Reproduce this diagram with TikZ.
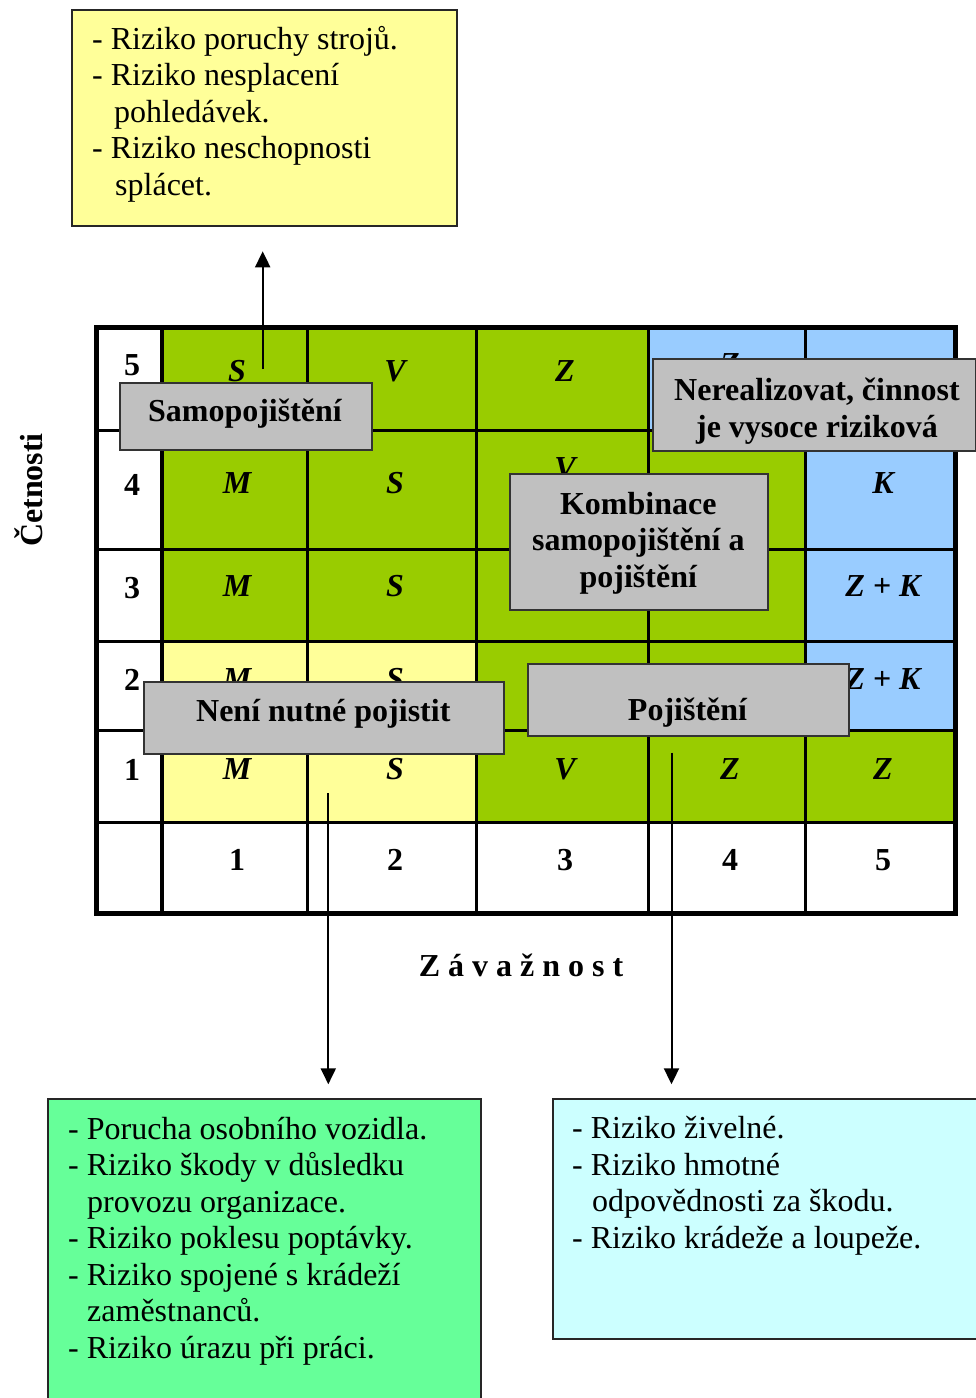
\documentclass[tikz,border=0pt]{standalone}
\usepackage{fontspec}
\setmainfont{Liberation Serif}
\usetikzlibrary{arrows.meta,calc}
\definecolor{cgreen}{HTML}{99CC00}
\definecolor{cyellow}{HTML}{FFFF99}
\definecolor{cblue}{HTML}{99CCFF}
\definecolor{cgray}{HTML}{C0C0C0}
\definecolor{clistg}{HTML}{66FF99}
\definecolor{clistc}{HTML}{CCFFFF}
\newcommand\mylines[2]{\begin{tabular}[t]{@{}#1@{}}#2\end{tabular}}
\begin{document}
\begin{tikzpicture}[x=1pt,y=-1pt,
  cellt/.style={font=\fontsize{32}{37}\selectfont\bfseries\itshape, anchor=base, inner sep=0pt},
  axt/.style={font=\fontsize{32}{37}\selectfont\bfseries, anchor=base, inner sep=0pt},
  boldt/.style={font=\fontsize{32}{37}\selectfont\bfseries, anchor=base, inner sep=0pt},
  boldtk/.style={font=\fontsize{32}{36.5}\selectfont\bfseries, anchor=base, inner sep=0pt},
  listt/.style={font=\fontsize{32}{36.6}\selectfont, anchor=base west, inner sep=0pt},
  graybox/.style={draw=black!80, line width=2pt, fill=cgray, inner sep=0pt, anchor=north west},
  listbox/.style={draw=black!85, line width=2pt, inner sep=0pt, anchor=north west},
  arr/.style={line width=2pt, -{Triangle[width=15pt,length=16pt]}},
  thin/.style={line width=3pt},
  ]
\useasboundingbox (0,0) rectangle (976,1398);
\fill[white] (0,0) rectangle (976,1398);

% ---- grid fills
\fill[cgreen] (162.3,327.5) rectangle (955,822.5);
\fill[cblue] (648.5,327.5) rectangle (955,430);
\fill[cblue] (805,430) rectangle (955,730.5);
\fill[cyellow] (162.3,641.5) rectangle (476,822.5);

% ---- cell letters
\node[cellt] (c51) at (237,381.7) {S};
\node[cellt] (c52) at (395,381.7) {V};
\node[cellt] (c53) at (565,381.7) {Z};
\node[cellt] (c54) at (730,374) {Z};
\node[cellt] (c41) at (237,493.3) {M};
\node[cellt] (c42) at (395,493.3) {S};
\node[cellt] (c43) at (565,478) {V};
\node[cellt] (c45) at (883,493.3) {K};
\node[cellt] (c31) at (237,596.7) {M};
\node[cellt] (c32) at (395,596.7) {S};
\node[cellt] (c35) at (883,596.7) {Z + K};
\node[cellt] (c21) at (237,689) {M};
\node[cellt] (c22) at (395,689) {S};
\node[cellt] (c25) at (883,689) {Z + K};
\node[cellt] (c11) at (237,779.3) {M};
\node[cellt] (c12) at (395,779.3) {S};
\node[cellt] (c13) at (565,779.3) {V};
\node[cellt] (c14) at (730,779.3) {Z};
\node[cellt] (c15) at (883,779.3) {Z};

% ---- axis numbers
\node[axt] (r5) at (132,375) {5};
\node[axt] (r4) at (132,495) {4};
\node[axt] (r3) at (132,598) {3};
\node[axt] (r2) at (132,690) {2};
\node[axt] (r1) at (132,780) {1};
\node[axt] (k1) at (237,870.5) {1};
\node[axt] (k2) at (395,870.5) {2};
\node[axt] (k3) at (565,870.5) {3};
\node[axt] (k4) at (730,870.5) {4};
\node[axt] (k5) at (883,870.5) {5};

% ---- grid lines
\foreach \xx in {307.3,476,648.5,805} \draw[thin] (\xx,327.5) -- (\xx,913);
\draw[line width=4pt] (162.3,327.5) -- (162.3,913);
\foreach \yy in {430,549.5,641.5,730.5,822.5} \draw[thin] (96,\yy) -- (955,\yy);
\draw[line width=5pt] (96,327.5) rectangle (955,913);

% ---- axis titles
\node[boldt, rotate=90] (cet) at (42,490) {Četnosti};
\node[boldt] (zav) at (521,976.7) {Z á v a ž n o s t};

% ---- gray labels
\node[graybox, minimum width=251.7, minimum height=67.6] (samo) at (119.3,381.7) {};
\node[boldt] (samot) at (245,421.7) {Samopojištění};
\node[graybox, minimum width=323.5, minimum height=91.7] (nerea) at (651.5,358.3) {};
\node[boldt] (nereat) at (817,400) {\mylines{c}{Nerealizovat, činnost\\je vysoce riziková}};
\node[graybox, minimum width=258, minimum height=135.7] (komb) at (509.3,473.3) {};
\node[boldtk] (kombt) at (638.3,514) {\mylines{c}{Kombinace\\samopojištění a\\pojištění}};
\node[graybox, minimum width=360.6, minimum height=72.3] (neni) at (142.7,681) {};
\node[boldt] (nenit) at (323.3,721.7) {Není nutné pojistit};
\node[graybox, minimum width=321, minimum height=71.7] (poj) at (527.3,663.3) {};
\node[boldt] (pojt) at (687.5,720) {Pojištění};

% ---- list boxes
\node[listbox, fill=cyellow, minimum width=385, minimum height=216] (topbox) at (71,9) {};
\node[listt] (toptext) at (92,49) {\mylines{l}{- Riziko poruchy strojů.\\- Riziko nesplacení\\\hspace*{22pt}pohledávek.\\- Riziko neschopnosti\\\hspace*{23pt}splácet.}};

\node[listbox, fill=clistg, minimum width=433.3, minimum height=330] (greenbox) at (46.7,1098) {};
\node[listt, font=\fontsize{32}{36.5}\selectfont] (greentext) at (68,1139) {\mylines{l}{- Porucha osobního vozidla.\\- Riziko škody v důsledku\\\hspace*{19pt}provozu organizace.\\- Riziko poklesu poptávky.\\- Riziko spojené s krádeží\\\hspace*{19pt}zaměstnanců.\\- Riziko úrazu při práci.}};

\node[listbox, fill=clistc, minimum width=430, minimum height=239.7] (cyanbox) at (551.7,1098.3) {};
\node[listt, font=\fontsize{32}{36.7}\selectfont] (cyantext) at (572,1138.5) {\mylines{l}{- Riziko živelné.\\- Riziko hmotné\\\hspace*{20pt}odpovědnosti za škodu.\\- Riziko krádeže a loupeže.}};

% ---- arrows
\coordinate (a1s) at (262.7,369);
\coordinate (a2s) at (328.3,793);
\coordinate (a3s) at (671.5,752.7);
\draw[arr, shorten >=24.3pt] (a1s) -- (a1s |- topbox.south);
\draw[arr, shorten >=13.7pt] (a2s) -- (a2s |- greenbox.north);
\draw[arr, shorten >=14pt] (a3s) -- (a3s |- cyanbox.north);
\end{tikzpicture}
\end{document}
